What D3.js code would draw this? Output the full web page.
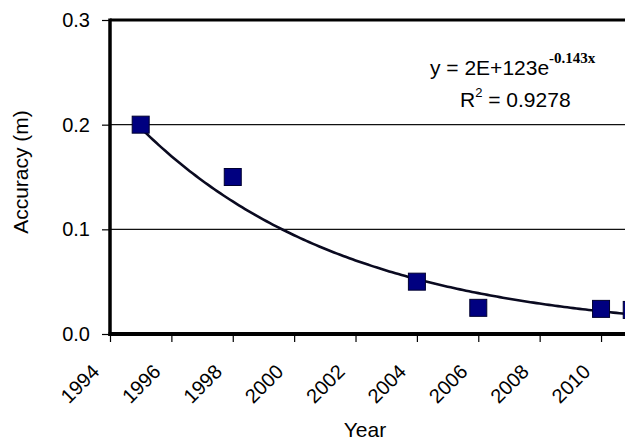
<!DOCTYPE html>
<html>
<head>
<meta charset="utf-8">
<script src="https://cdn.jsdelivr.net/npm/d3@7"></script>
<style>
  html, body { margin: 0; padding: 0; background: #fff; }
  svg { display: block; }
  text { font-family: Arial, "Liberation Sans", sans-serif; fill: #000; }
</style>
</head>
<body>
<svg id="chart" width="625" height="441"></svg>
<script>
// ---- data ----
const years = [1995, 1998, 2004, 2006, 2010, 2011];
const accuracy = [0.2, 0.15, 0.05, 0.025, 0.024, 0.023];
const yTicks = [0.0, 0.1, 0.2, 0.3];
const xTicks = [1994, 1996, 1998, 2000, 2002, 2004, 2006, 2008, 2010];
const equationMain = "y = 2E+123e";
const equationExp = "-0.143x";
const rSquaredText = "0.9278";
const xTitle = "Year";
const yTitle = "Accuracy (m)";

// ---- layout ----
const W = 625, H = 441;
const plotLeft = 110, plotTop = 20, plotBottom = 334;
const svg = d3.select("#chart");
const FONT = "Arial, 'Liberation Sans', sans-serif";

const x = d3.scaleLinear().domain([1994, 2012]).range([plotLeft, plotLeft + 18 * 30.69]);
const y = d3.scaleLinear().domain([0, 0.3]).range([plotBottom, plotTop]);

// gridlines at 0.1, 0.2
svg.append("g").selectAll("line").data([0.1, 0.2]).join("line")
  .attr("x1", plotLeft).attr("x2", W)
  .attr("y1", d => y(d)).attr("y2", d => y(d))
  .attr("stroke", "#111").attr("stroke-width", 1.3);

// top border at 0.3
svg.append("line").attr("x1", plotLeft).attr("x2", W)
  .attr("y1", y(0.3)).attr("y2", y(0.3))
  .attr("stroke", "#000").attr("stroke-width", 3);

// Y axis
const yAxis = d3.axisLeft(y).tickValues(yTicks).tickFormat(d3.format(".1f")).tickSize(8).tickPadding(12);
const gy = svg.append("g").attr("transform", `translate(${plotLeft},0)`).call(yAxis);
gy.select(".domain").remove();
gy.selectAll(".tick line").attr("stroke", "#000").attr("stroke-width", 1.2);
gy.selectAll(".tick text").attr("font-size", 20).attr("font-family", FONT).attr("fill", "#000");
svg.append("line").attr("x1", plotLeft).attr("x2", plotLeft).attr("y1", plotTop - 1.5).attr("y2", plotBottom + 2)
  .attr("stroke", "#000").attr("stroke-width", 3.5);

// X axis
const xAxis = d3.axisBottom(x).tickValues(xTicks).tickFormat(d3.format("d")).tickSize(8);
const gx = svg.append("g").attr("transform", `translate(0,${plotBottom})`).call(xAxis);
gx.select(".domain").remove();
gx.selectAll(".tick line").attr("stroke", "#000").attr("stroke-width", 1.2);
gx.selectAll(".tick text")
  .attr("font-size", 20).attr("font-family", FONT).attr("fill", "#000")
  .attr("text-anchor", "end").attr("dy", null).attr("y", null)
  .attr("transform", "translate(-10,39) rotate(-45)");
svg.append("line").attr("x1", plotLeft - 1.5).attr("x2", W).attr("y1", plotBottom).attr("y2", plotBottom)
  .attr("stroke", "#000").attr("stroke-width", 4);

// exponential trendline (least squares on ln y, as in spreadsheet trendlines)
const lnY = accuracy.map(Math.log);
const mx = d3.mean(years), my = d3.mean(lnY);
const slope = d3.sum(years, (v, i) => (v - mx) * (lnY[i] - my)) / d3.sum(years, v => (v - mx) ** 2);
const trendX = d3.range(1995, 2012.01, 0.1);
const trend = trendX.map(v => [v, Math.exp(my + slope * (v - mx))]);
svg.append("path").datum(trend)
  .attr("d", d3.line().x(d => x(d[0])).y(d => y(d[1])))
  .attr("fill", "none").attr("stroke", "#0a0a20").attr("stroke-width", 2.6);

// markers
const sz = 17;
svg.append("g").selectAll("rect").data(years).join("rect")
  .attr("x", d => x(d) - sz / 2)
  .attr("y", (d, i) => y(accuracy[i]) - sz / 2)
  .attr("width", sz).attr("height", sz)
  .attr("fill", "#000080").attr("stroke", "#000030").attr("stroke-width", 1);

// equation
const eq = svg.append("text").attr("x", 430).attr("y", 75).attr("font-size", 21);
eq.append("tspan").text(equationMain);
eq.append("tspan").attr("dy", -12).attr("font-size", 15).attr("font-weight", "bold")
  .attr("font-family", "'Liberation Serif', 'Times New Roman', serif").text(equationExp);
const r2 = svg.append("text").attr("x", 460).attr("y", 107).attr("font-size", 21);
r2.append("tspan").text("R");
r2.append("tspan").attr("dy", -10).attr("font-size", 13).text("2");
r2.append("tspan").attr("dy", 10).text(" = " + rSquaredText);

// axis titles
svg.append("text").attr("x", 365).attr("y", 437).attr("text-anchor", "middle").attr("font-size", 21).text(xTitle);
svg.append("text").attr("transform", "translate(28,172) rotate(-90)").attr("text-anchor", "middle")
  .attr("font-size", 21).text(yTitle);
</script>
</body>
</html>
